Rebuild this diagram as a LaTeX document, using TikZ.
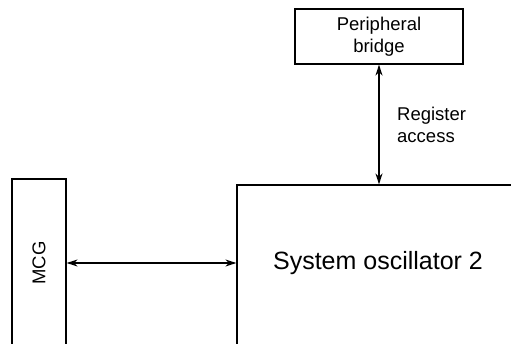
\documentclass[tikz,border=0pt]{standalone}
\usepackage{fontspec}
\setmainfont{Liberation Sans}
\usetikzlibrary{arrows.meta}
\begin{document}
\begin{tikzpicture}[x=1pt,y=-1pt,
  blk/.style={draw,line width=1.2pt,inner sep=0pt,rectangle},
  lbl/.style={inner sep=0pt,font=\fontsize{18.5}{22}\selectfont},
  tip/.style={Stealth[length=11pt,width=7pt,inset=3.5pt]},
  conn/.style={line width=1.4pt,{Stealth[length=11pt,width=7pt,inset=3.5pt]}-{Stealth[length=11pt,width=7pt,inset=3.5pt]}}
]
\clip (0,0) rectangle (511,344);
\node[blk,minimum width=168pt,minimum height=55pt,align=center,font=\fontsize{18.5}{22.5}\selectfont] (pb) at (379,36.5) {Peripheral\\bridge};
\node[blk,minimum width=54pt,minimum height=200pt] (mcg) at (39,279) {};
\node[lbl,rotate=90] (mcgl) at (39,263) {MCG};
\node[blk,minimum width=300pt,minimum height=200pt] (sys) at (387,285) {};
\node[inner sep=0pt,font=\fontsize{25}{30}\selectfont] (sysl) at (378,263) {System oscillator 2};
\node[lbl,anchor=west,align=left] (ra) at (397,125) {Register\\access};
\draw[conn] (mcgl -| mcg.east) -- (mcgl -| sys.west);
\draw[conn] (pb.south) -- (pb.south |- sys.north);
\end{tikzpicture}
\end{document}
